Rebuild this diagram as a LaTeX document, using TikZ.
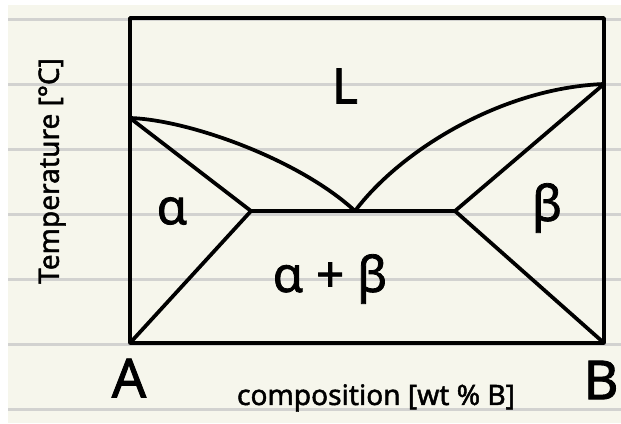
\documentclass[tikz,border=0pt]{standalone}
\usepackage{fontspec}
\setmainfont{Noto Sans}[AutoFakeBold=1.6]
\usepackage{xcolor}
\usetikzlibrary{positioning}

\definecolor{papel}{HTML}{F6F6EC}
\definecolor{pauta}{HTML}{D2D2D0}

\begin{document}
\begin{tikzpicture}[
    x=0.03cm, y=-0.03cm,
    % estilos do diagrama
    phaseLine/.style={draw=black, line width=3.2pt, line cap=round, line join=round},
    ruleLine/.style={draw=pauta, line width=2.5pt},
    phaseLabel/.style={font=\fontsize{42}{44}\selectfont\bfseries, inner sep=0pt},
    endLabel/.style={font=\fontsize{46}{48}\selectfont\bfseries, inner sep=0pt},
    axisLabel/.style={font=\fontsize{24}{26}\selectfont\bfseries, inner sep=0pt}
]
\useasboundingbox (0,0) rectangle (621,423);

% ==========================
% FOLHA PAUTADA
% ==========================
\fill[papel] (8,5) rectangle (621,423);
\foreach \i in {0,...,6} { \draw[ruleLine] (8,19.3+65*\i) -- (621,19.3+65*\i); }

% ==========================
% PONTOS DO DIAGRAMA
% ==========================
\coordinate (bl) at (130,343);
\coordinate (br) at (604,343);
\coordinate (tr) at (604,18);
\coordinate (liqA) at (130,118);
\coordinate (liqB) at (604,84);
\coordinate (solA) at (251,211);
\coordinate (eut) at (355,211);
\coordinate (solB) at (455,211);

% ==========================
% LINHAS DE FASE
% ==========================
\draw[phaseLine] (bl) rectangle (tr);
\draw[phaseLine] (liqA) .. controls +(60,2) and +(-55,-51) .. (eut);
\draw[phaseLine] (eut) .. controls +(45,-60) and +(-103,4) .. (liqB);
\draw[phaseLine] (liqA) -- (solA) -- (bl);
\draw[phaseLine] (solA) -- (solB);
\draw[phaseLine] (liqB) -- (solB) -- (br);

% ==========================
% ROTULOS
% ==========================
\node[phaseLabel] (liq) at (345,86) {L};
\node[phaseLabel] (alfa) at (172,211) {α};
\node[phaseLabel] (beta) at (547,208) {β};
\node[phaseLabel] (alfabeta) at (330,279) {α + β};
\node[endLabel] (compA) at (129,378) {A};
\node[endLabel] (compB) at (601,380) {B};
\node[axisLabel] (xlab) at (376,398) {composition [wt \% B]};
\node[axisLabel, rotate=90] (ylab) at (52,171) {Temperature [°C]};

\end{tikzpicture}
\end{document}
